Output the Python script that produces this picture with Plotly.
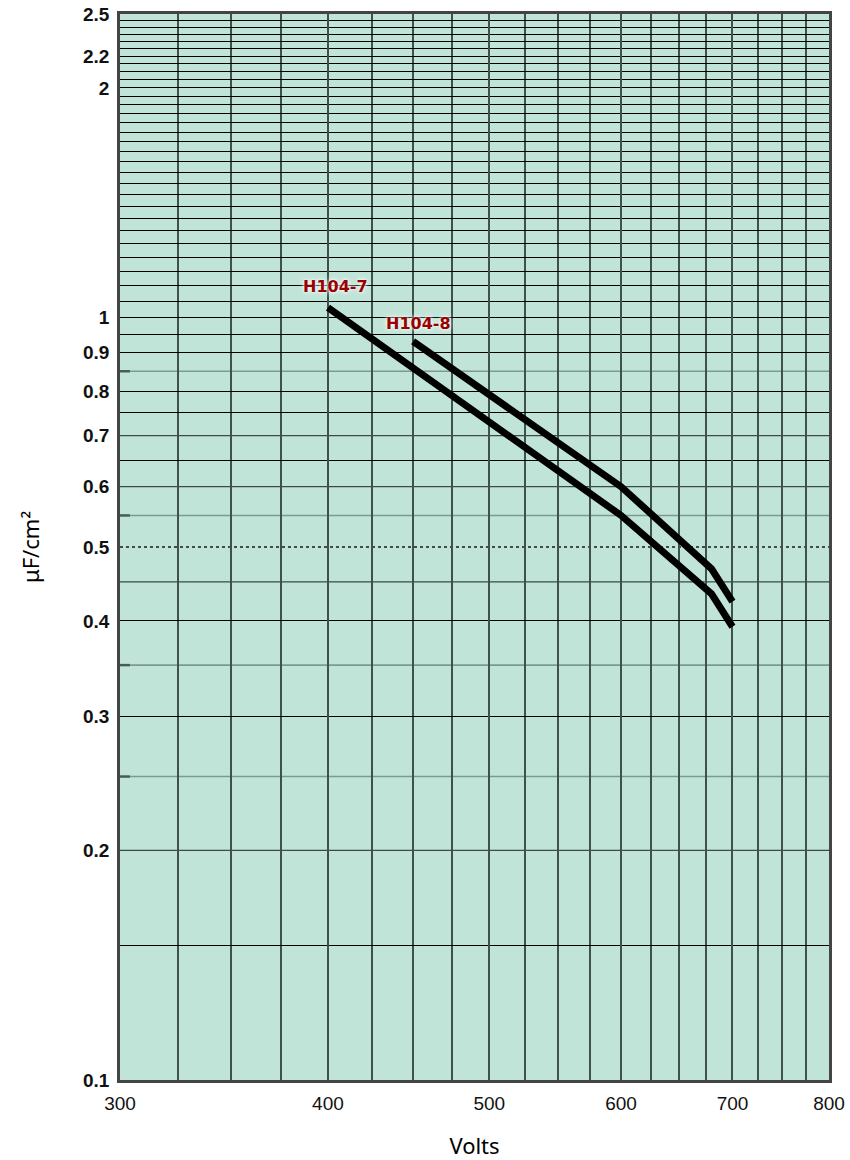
import numpy as np
import plotly.graph_objects as go

# ---- data ----
series_names = ["H104-7", "H104-8"]
h104_7_volts = [400, 600, 680, 700]
h104_7_cap = [1.03, 0.55, 0.434, 0.393]
h104_8_volts = [450, 600, 680, 700]
h104_8_cap = [0.93, 0.60, 0.468, 0.424]

x_tick_vals = [300, 400, 500, 600, 700, 800]
x_grid_vals = [325, 350, 375, 400, 425, 450, 475, 500, 525, 550, 575, 600,
               625, 650, 675, 700, 725, 750, 775]
y_tick_vals = [0.1, 0.2, 0.3, 0.4, 0.5, 0.6, 0.7, 0.8, 0.9, 1, 2, 2.2, 2.5]
y_tick_text = ["0.1", "0.2", "0.3", "0.4", "0.5", "0.6", "0.7", "0.8", "0.9",
               "1", "2", "2.2", "2.5"]
y_major_grid = [0.15, 0.3, 0.4, 0.65, 0.75, 0.8, 0.9, 0.95, 1.0, 1.05, 1.1,
                1.15, 1.2, 1.25, 1.3, 1.35, 1.4, 1.45, 1.5, 1.55, 1.6, 1.65,
                1.7, 1.75, 1.8, 1.85, 1.9, 1.95, 2.0, 2.05, 2.1, 2.15, 2.2,
                2.25, 2.3, 2.35, 2.4, 2.45]
y_thin_grid = [0.2, 0.45, 0.6, 0.7]
y_dotted_grid = [0.5]
y_faint_grid = [0.25, 0.35, 0.55, 0.85]

Y_MIN, Y_MAX = 0.1, 2.5
x_range = [np.log10(300) - 1e-6, np.log10(800) + 1e-6]
y_range = [np.log10(Y_MIN) - 1e-6, np.log10(Y_MAX) + 1e-6]


def y_frac(v):
    """Position of a value inside the log y-axis domain (0..1)."""
    return (np.log10(v) - y_range[0]) / (y_range[1] - y_range[0])


BG = "#c1e4d8"
VGRID = "#3f514b"

fig = go.Figure()
fig.add_trace(go.Scatter(x=h104_7_volts, y=h104_7_cap, mode="lines",
                         line=dict(color="black", width=7),
                         name=series_names[0], showlegend=False, hoverinfo="skip"))
fig.add_trace(go.Scatter(x=h104_8_volts, y=h104_8_cap, mode="lines",
                         line=dict(color="black", width=7),
                         name=series_names[1], showlegend=False, hoverinfo="skip"))

# secondary horizontal grid lines
for v in y_thin_grid:
    fig.add_shape(type="line", xref="x domain", yref="y domain", x0=0, x1=1,
                  y0=y_frac(v), y1=y_frac(v), layer="below",
                  line=dict(color="#3a4a44", width=1.2))
for v in y_dotted_grid:
    fig.add_shape(type="line", xref="x domain", yref="y domain", x0=0, x1=1,
                  y0=y_frac(v), y1=y_frac(v), layer="below",
                  line=dict(color="#1a1a1a", width=1.5, dash="dot"))
for v in y_faint_grid:
    fig.add_shape(type="line", xref="x domain", yref="y domain", x0=0, x1=1,
                  y0=y_frac(v), y1=y_frac(v), layer="below",
                  line=dict(color="rgba(60,80,72,0.5)", width=1.6))
    fig.add_shape(type="line", xref="x domain", yref="y domain", x0=0, x1=0.014,
                  y0=y_frac(v), y1=y_frac(v), layer="below",
                  line=dict(color="rgba(60,80,72,0.85)", width=2.5))

label_font = dict(family="DejaVu Sans", size=16, color="#9a0000", weight="bold",
                  shadow="0px 0px 3px white, 0px 0px 6px white")
fig.add_annotation(x=np.log10(h104_7_volts[0]), y=np.log10(h104_7_cap[0]),
                   text=series_names[0], showarrow=False, font=label_font,
                   xshift=8, yshift=21)
fig.add_annotation(x=np.log10(h104_8_volts[0]), y=np.log10(h104_8_cap[0]),
                   text=series_names[1], showarrow=False, font=label_font,
                   xshift=5, yshift=18)

tick_font_y = dict(family="Liberation Sans", size=19, color="#111", weight="bold")
tick_font_x = dict(family="Liberation Sans", size=19, color="#111")

fig.update_layout(
    width=850, height=1160,
    margin=dict(l=120, r=21, t=14, b=80, autoexpand=False),
    paper_bgcolor="white", plot_bgcolor=BG,
    showlegend=False,
    xaxis=dict(type="log", range=x_range, tickvals=x_tick_vals,
               ticktext=[str(v) for v in x_tick_vals], tickfont=tick_font_x,
               showgrid=True, gridcolor=VGRID, gridwidth=1.5,
               minor=dict(tickvals=x_grid_vals, showgrid=True, gridcolor=VGRID,
                          gridwidth=1.5, ticks=""),
               ticks="", showline=True, linecolor="#444", linewidth=2.5,
               mirror=True, zeroline=False, ticklabelstandoff=4,
               title=dict(text="Volts", font=dict(family="Noto Sans", size=22,
                                                   color="black"), standoff=28)),
    yaxis=dict(type="log", range=y_range, tickvals=y_tick_vals,
               ticktext=y_tick_text, tickfont=tick_font_y,
               showgrid=False,
               minor=dict(tickvals=y_major_grid, showgrid=True,
                          gridcolor="black", gridwidth=1.3, ticks=""),
               ticks="", showline=True, linecolor="#444", linewidth=2.5,
               mirror=True, zeroline=False, ticklabelstandoff=4,
               title=dict(text="μF/cm²", font=dict(family="Noto Sans", size=22,
                                                   color="black"), standoff=38)),
)

fig.write_html("out.html", config={"displayModeBar": False},
               post_script="document.body.style.margin='0px';"
                           "document.body.style.overflow='hidden';")
